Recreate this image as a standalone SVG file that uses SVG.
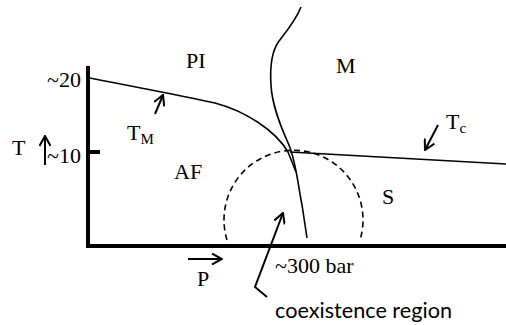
<svg xmlns="http://www.w3.org/2000/svg" width="506" height="325" viewBox="0 0 506 325">
<style>
.lbl{font-family:'Liberation Serif',serif;font-size:22px;fill:#000}
.subs{font-size:15px}
.note{font-family:Lato,sans-serif;font-size:21px;fill:#000}
.ln{fill:none;stroke:#000;stroke-width:1.6}
.ar{fill:none;stroke:#000;stroke-width:2;marker-end:url(#v)}
.ax{fill:none;stroke:#000;stroke-width:4}
</style>
<defs>
<marker id="v" viewBox="0 0 12 12" refX="11" refY="6" markerWidth="12" markerHeight="12" markerUnits="userSpaceOnUse" orient="auto">
<path d="M1,0.5 L11,6 L1,11.5" fill="none" stroke="#000" stroke-width="2"/>
</marker>
</defs>
<rect width="506" height="325" fill="#fff"/>
<g id="axes">
<path class="ax" d="M88,66 L88,246 L506,246"/>
<path class="ax" d="M88,152 L100,152" stroke-width="3"/>
</g>
<g id="connectors">
<path class="ln" d="M90,78 C140,88 180,95 215,103 C245,111 275,130 288,152 L296,172"/>
<path class="ln" d="M301,7 C296,20 286,32 279,41 C271,52 270,70 271,85 C272,105 280,125 289,145 C296,162 298,185 302,205 L307,238"/>
<path class="ln" d="M290,152 L506,164"/>
<path class="ln" stroke-dasharray="6,4" d="M227,240 A69.5,69.5 0 1 1 360,240"/>
<path class="ar" d="M45,165 L45,136"/>
<path class="ar" d="M188,259 L222,259"/>
<path class="ar" d="M155,114 L163,95"/>
<path class="ar" d="M438,125 L425,150"/>
<path class="ar" d="M267,297 L255,287 L283,213"/>
</g>
<g id="labels">
<text class="lbl" x="47" y="87">~20</text>
<text class="lbl" x="47" y="163">~10</text>
<text class="lbl" x="12" y="155">T</text>
<text class="lbl" x="186" y="68">PI</text>
<text class="lbl" x="336" y="73">M</text>
<text class="lbl" x="127" y="140">T<tspan class="subs" dy="4">M</tspan></text>
<text class="lbl" x="446" y="129">T<tspan class="subs" dy="4">c</tspan></text>
<text class="lbl" x="174" y="179">AF</text>
<text class="lbl" x="382" y="204">S</text>
<text class="lbl" x="197" y="286">P</text>
<text class="lbl" x="275" y="273">~300 bar</text>
<text class="note" x="275" y="318" textLength="177" lengthAdjust="spacingAndGlyphs">coexistence region</text>
</g>
</svg>
